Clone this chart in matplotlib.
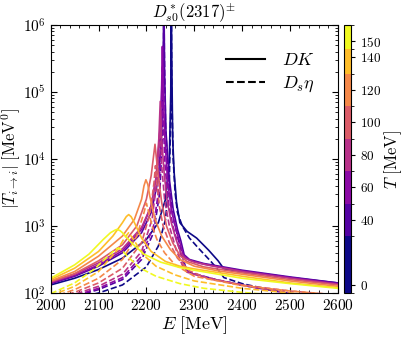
import matplotlib
matplotlib.use('Agg')
import matplotlib.pyplot as plt
import numpy as np
from matplotlib.colors import ListedColormap, BoundaryNorm
from matplotlib.cm import ScalarMappable
from matplotlib.lines import Line2D

plt.rcParams['mathtext.fontset'] = 'cm'
plt.rcParams['font.family'] = 'serif'
plt.rcParams['font.serif'] = ['cmr10']
plt.rcParams['axes.formatter.use_mathtext'] = True

# temperatures [MeV]
T_vals = [0, 40, 60, 80, 100, 120, 140, 150]
T_bounds = [-5, 30, 50, 70, 90, 110, 130, 145, 160]

# DK channel, energies [MeV] and log10|T|
dk_e_0 = [2000, 2050, 2100, 2150, 2200, 2225, 2240, 2248, 2251, 2252, 2253, 2255, 2258, 2263, 2270,
          2285, 2305, 2330, 2350, 2362, 2380, 2400, 2450, 2500, 2550, 2600]
dk_lg_0 = [2.12, 2.22, 2.35, 2.52, 2.8, 3.05, 3.4, 4.0, 5.0, 6.6, 5.5, 4.3, 3.8, 3.35, 3.05,
           2.92, 2.82, 2.64, 2.48, 2.36, 2.34, 2.32, 2.28, 2.23, 2.19, 2.15]
dk_e_40 = [2000, 2050, 2100, 2150, 2190, 2210, 2225, 2232, 2235, 2236.5, 2238, 2241, 2248, 2256,
           2265, 2272, 2279, 2290, 2320, 2360, 2400, 2500, 2600]
dk_lg_40 = [2.14, 2.25, 2.4, 2.6, 2.9, 3.2, 3.7, 4.4, 5.3, 6.6, 5.3, 4.4, 3.7, 3.25,
            2.95, 2.78, 2.57, 2.5, 2.44, 2.39, 2.34, 2.24, 2.15]
dk_e_60 = [2000, 2050, 2100, 2150, 2190, 2210, 2222, 2229, 2232, 2233.5, 2235, 2238, 2244, 2252,
           2262, 2270, 2277, 2290, 2320, 2360, 2400, 2500, 2600]
dk_lg_60 = [2.15, 2.26, 2.42, 2.63, 2.95, 3.3, 3.8, 4.5, 5.1, 5.68, 5.1, 4.4, 3.7, 3.25,
            2.95, 2.75, 2.57, 2.49, 2.43, 2.38, 2.33, 2.23, 2.14]
dk_e_80 = [2000, 2050, 2100, 2150, 2190, 2210, 2220, 2226, 2229, 2232, 2237, 2243, 2252, 2262,
           2272, 2280, 2300, 2340, 2400, 2500, 2600]
dk_lg_80 = [2.16, 2.28, 2.45, 2.66, 2.98, 3.3, 3.7, 4.3, 4.86, 4.3, 3.8, 3.4, 3.05, 2.8,
            2.6, 2.52, 2.46, 2.4, 2.32, 2.22, 2.13]
dk_e_100 = [2000, 2050, 2100, 2150, 2180, 2200, 2210, 2218, 2224, 2232, 2242, 2255, 2270, 2285,
            2320, 2400, 2500, 2600]
dk_lg_100 = [2.17, 2.29, 2.48, 2.72, 3.0, 3.4, 3.75, 4.22, 3.8, 3.35, 3.0, 2.75, 2.56, 2.47,
             2.39, 2.3, 2.2, 2.12]
dk_e_120 = [2000, 2050, 2100, 2150, 2175, 2190, 2195, 2199, 2203, 2207, 2218, 2232, 2250, 2270,
            2300, 2350, 2400, 2500, 2600]
dk_lg_120 = [2.18, 2.32, 2.55, 2.85, 3.1, 3.4, 3.6, 3.69, 3.62, 3.45, 3.1, 2.85, 2.65, 2.5,
             2.4, 2.33, 2.28, 2.18, 2.1]
dk_e_140 = [2000, 2050, 2100, 2130, 2150, 2158, 2163, 2168, 2175, 2190, 2210, 2240, 2270, 2300,
            2400, 2500, 2600]
dk_lg_140 = [2.2, 2.37, 2.62, 2.85, 3.05, 3.14, 3.17, 3.14, 3.05, 2.82, 2.62, 2.47, 2.4, 2.36,
             2.25, 2.15, 2.08]
dk_e_150 = [2000, 2050, 2080, 2110, 2125, 2135, 2139, 2145, 2150, 2170, 2195, 2230, 2270, 2300,
            2400, 2500, 2600]
dk_lg_150 = [2.22, 2.42, 2.58, 2.8, 2.9, 2.94, 2.95, 2.93, 2.9, 2.74, 2.58, 2.46, 2.38, 2.34,
             2.22, 2.14, 2.07]

# Ds eta channel
de_e_0 = [2000, 2050, 2100, 2150, 2200, 2225, 2240, 2248, 2251, 2252, 2253, 2256, 2260, 2265, 2275,
          2290, 2310, 2335, 2355, 2362, 2400, 2450, 2500, 2550]
de_lg_0 = [1.85, 1.92, 2.0, 2.12, 2.39, 2.7, 3.1, 3.7, 4.7, 6.6, 5.0, 4.0, 3.5, 3.2, 3.0,
           2.82, 2.66, 2.47, 2.3, 2.23, 2.14, 2.06, 1.99, 1.93]
de_e_40 = [2000, 2050, 2100, 2150, 2190, 2215, 2228, 2234, 2236, 2236.5, 2237.5, 2240, 2246, 2255,
           2266, 2278, 2285, 2350, 2420, 2500, 2560]
de_lg_40 = [1.87, 1.95, 2.05, 2.2, 2.5, 2.9, 3.5, 4.4, 5.6, 6.6, 5.6, 4.5, 3.7, 3.15,
            2.82, 2.48, 2.32, 2.19, 2.09, 1.99, 1.93]
de_e_60 = [2000, 2050, 2100, 2150, 2190, 2215, 2227, 2232, 2233.5, 2235, 2239, 2246, 2256, 2268,
           2280, 2290, 2350, 2420, 2500, 2560]
de_lg_60 = [1.88, 1.96, 2.07, 2.23, 2.55, 3.0, 3.6, 4.6, 5.4, 4.6, 3.9, 3.35, 2.98, 2.68,
            2.38, 2.3, 2.19, 2.09, 1.99, 1.93]
de_e_80 = [2000, 2050, 2100, 2150, 2190, 2212, 2224, 2229, 2232, 2238, 2248, 2262, 2276, 2285,
           2320, 2400, 2500, 2600]
de_lg_80 = [1.89, 1.98, 2.1, 2.28, 2.62, 3.1, 3.8, 4.55, 3.9, 3.4, 3.0, 2.65, 2.4, 2.31,
            2.24, 2.12, 2.0, 1.92]
de_e_100 = [2000, 2050, 2100, 2150, 2190, 2208, 2216, 2219, 2222, 2227, 2235, 2248, 2265, 2290,
            2330, 2400, 2500, 2600]
de_lg_100 = [1.91, 2.01, 2.15, 2.37, 2.75, 3.2, 3.65, 3.9, 3.65, 3.3, 3.0, 2.75, 2.52, 2.33,
             2.21, 2.12, 2.03, 1.97]
de_e_120 = [2000, 2050, 2100, 2150, 2180, 2195, 2200, 2205, 2212, 2222, 2238, 2260, 2300, 2400,
            2500, 2600]
de_lg_120 = [1.93, 2.05, 2.22, 2.5, 2.85, 3.2, 3.34, 3.2, 3.0, 2.8, 2.6, 2.42, 2.25, 2.11,
             2.03, 1.97]
de_e_140 = [2000, 2050, 2100, 2140, 2155, 2163, 2170, 2180, 2195, 2220, 2260, 2300, 2400, 2500, 2580]
de_lg_140 = [1.96, 2.1, 2.32, 2.65, 2.83, 2.9, 2.83, 2.72, 2.56, 2.4, 2.27, 2.18, 2.07, 2.0, 1.96]
de_e_150 = [2000, 2050, 2090, 2120, 2135, 2142, 2150, 2160, 2185, 2220, 2270, 2320, 2400, 2480]
de_lg_150 = [1.99, 2.15, 2.35, 2.55, 2.65, 2.67, 2.63, 2.55, 2.38, 2.25, 2.14, 2.07, 2.01, 1.96]


def main():
    dk = [(dk_e_0, dk_lg_0), (dk_e_40, dk_lg_40), (dk_e_60, dk_lg_60), (dk_e_80, dk_lg_80),
          (dk_e_100, dk_lg_100), (dk_e_120, dk_lg_120), (dk_e_140, dk_lg_140), (dk_e_150, dk_lg_150)]
    de = [(de_e_0, de_lg_0), (de_e_40, de_lg_40), (de_e_60, de_lg_60), (de_e_80, de_lg_80),
          (de_e_100, de_lg_100), (de_e_120, de_lg_120), (de_e_140, de_lg_140), (de_e_150, de_lg_150)]
    colors = [plt.cm.plasma(i / (len(T_vals) - 1)) for i in range(len(T_vals))]

    fig = plt.figure(figsize=(4.04, 3.37), dpi=100)
    ax = fig.add_axes([0.1255, 0.1306, 0.7105, 0.7952])
    cax = fig.add_axes([0.852, 0.1306, 0.0166, 0.7952])

    for i in range(len(T_vals)):
        e, lg = de[i]
        ax.plot(e, 10 ** np.array(lg), '--', color=colors[i], lw=1.2)
        e, lg = dk[i]
        ax.plot(e, 10 ** np.array(lg), '-', color=colors[i], lw=1.2)

    ax.set_yscale('log')
    ax.set_xlim(2000, 2600)
    ax.set_ylim(1e2, 1e6)
    ax.set_xticks([2000, 2100, 2200, 2300, 2400, 2500, 2600])
    ax.xaxis.set_minor_locator(matplotlib.ticker.MultipleLocator(20))
    ax.tick_params(which='both', direction='in', top=True, right=True, labelsize=11)
    ax.tick_params(which='major', length=4)
    ax.tick_params(which='minor', length=2)
    ax.set_xlabel(r'$E\ [\mathrm{MeV}]$', fontsize=13, labelpad=1)
    ax.set_ylabel(r'$|T_{i\to i}|\ [\mathrm{MeV}^0]$', fontsize=12, labelpad=0)
    ax.set_title(r'$D^*_{s0}(2317)^{\pm}$', fontsize=12, pad=4)

    handles = [Line2D([], [], color='k', ls='-', lw=1.5),
               Line2D([], [], color='k', ls='--', lw=1.5)]
    ax.legend(handles, [r'$DK$', r'$D_s\eta$'], loc='upper right', bbox_to_anchor=(0.945, 0.925),
              borderaxespad=0, frameon=False, fontsize=13, handlelength=2.2, handletextpad=0.9,
              labelspacing=0.35)

    cmap = ListedColormap(colors)
    norm = BoundaryNorm(T_bounds, cmap.N)
    cb = fig.colorbar(ScalarMappable(norm=norm, cmap=cmap), cax=cax, ticks=T_vals,
                      spacing='proportional')
    cb.ax.tick_params(labelsize=9.5, length=3)
    cb.set_label(r'$T\ [\mathrm{MeV}]$', fontsize=12, labelpad=1)

    fig.savefig('out.png', dpi=100)


if __name__ == '__main__':
    main()
